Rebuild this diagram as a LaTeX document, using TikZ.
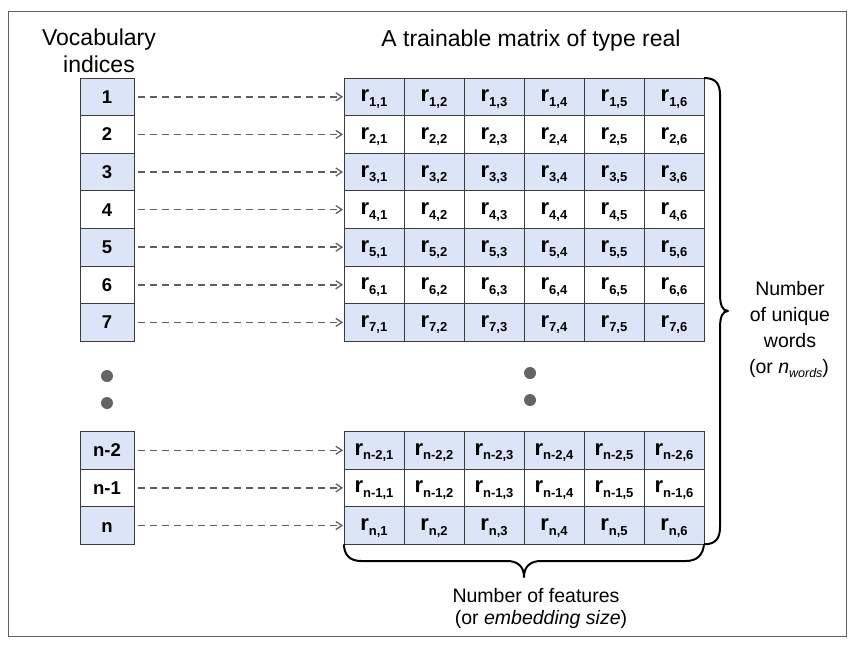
\documentclass[tikz,border=0pt]{standalone}
\usepackage{fontspec}
\setmainfont{Liberation Sans}
\usetikzlibrary{arrows.meta}

\definecolor{cellblue}{RGB}{219,229,247}
\definecolor{gridline}{RGB}{60,60,60}
\definecolor{arrowgray}{RGB}{95,95,95}
\definecolor{framegray}{RGB}{95,95,95}
\definecolor{dotgray}{RGB}{100,100,100}

% matrix entry: bold r with a lowered bold index
\newcommand\rentry[1]{{\fontsize{22}{22}\selectfont\bfseries r}\raisebox{-4.5pt}{\fontsize{13}{13}\selectfont\bfseries #1}}

\begin{document}
\begin{tikzpicture}[x=1pt,y=-1pt,
  cellbox/.style={draw=gridline, line width=1pt, minimum width=60pt, minimum height=37.6pt,
    inner sep=0pt, outer sep=0pt, text height=12pt, text depth=2pt},
  idxbox/.style={cellbox, minimum width=54pt, text height=13pt, text depth=0pt,
    font=\fontsize{18.5}{18.5}\selectfont\bfseries},
  lookup/.style={draw=arrowgray, line width=1.6pt, dash pattern=on 7pt off 5pt,
    shorten <=4pt, shorten >=1pt, -{Straight Barb[length=6pt,width=8pt,line width=1.3pt]}},
  bracepath/.style={draw=black, line width=2pt, line join=round},
  heading/.style={anchor=base, inner sep=0pt, font=\fontsize{23}{23}\selectfont},
  note/.style={anchor=base, inner sep=0pt, font=\fontsize{19.5}{19.5}\selectfont},
  dot/.style={circle, fill=dotgray, minimum size=12pt, inner sep=0pt}
]
\useasboundingbox (0,0) rectangle (855,646);
\draw[framegray, line width=1.5pt] (8.5,11.5) rectangle (846.5,636.5);

% headings
\node[heading] (vocab1) at (99,45) {Vocabulary};
\node[heading] (vocab2) at (99,72) {indices};
\node[heading] (mtitle) at (531,46.5) {A trainable matrix of type real};

% first seven rows
\foreach \i in {1,...,7} {
  \ifodd\i \def\fc{cellblue}\else\def\fc{white}\fi
  \node[idxbox, fill=\fc] (v\i) at (107,{78+37.6*(\i-0.5)}) {\i};
  \foreach \j in {1,...,6} {
    \node[cellbox, fill=\fc] (m-\i-\j) at ({344+60*(\j-0.5)},{78+37.6*(\i-0.5)}) {\rentry{\i,\j}};
  }
  \draw[lookup] (v\i) -- (m-\i-1);
}

% last three rows
\foreach \lab/\k/\fc in {n-2/1/cellblue, n-1/2/white, n/3/cellblue} {
  \node[idxbox, fill=\fc] (v\lab) at (107,{431.5+37.6*(\k-0.5)}) {\lab};
  \foreach \j in {1,...,6} {
    \node[cellbox, fill=\fc] (m-\lab-\j) at ({344+60*(\j-0.5)},{431.5+37.6*(\k-0.5)}) {\rentry{\lab,\j}};
  }
  \draw[lookup] (v\lab) -- (m-\lab-1);
}

% ellipsis dots
\node[dot] (ldot1) at (107,376) {};
\node[dot] (ldot2) at (107,403) {};
\node[dot] (rdot1) at (530,373) {};
\node[dot] (rdot2) at (530,400) {};

% brace along the rows
\draw[bracepath] (m-1-6.north east)
  .. controls (716,78) and (720,84) .. (720,95) -- (720,294)
  .. controls (720,304) and (722,311) .. (728,311)
  .. controls (722,311) and (720,318) .. (720,328) -- (720,527)
  .. controls (720,538) and (716,544.3) .. (m-n-6.south east);

% brace along the columns
\draw[bracepath] (m-n-1.south west)
  .. controls (344,555) and (350,561) .. (361,561) -- (507,561)
  .. controls (517,561) and (524,566) .. (524,577)
  .. controls (524,566) and (531,561) .. (541,561) -- (686,561)
  .. controls (697,561) and (703,555) .. (m-n-6.south east);

% brace labels
\node[note] (rl1) at (790,295) {Number};
\node[note] (rl2) at (790,321) {of unique};
\node[note] (rl3) at (790,347) {words};
\node[note] (rl4) at (789,373) {(or \textit{n}\raisebox{-4pt}{\fontsize{12.5}{12.5}\selectfont\itshape words})};
\node[note] (bl1) at (536,602) {Number of features};
\node[note] (bl2) at (541,624) {(or \textit{embedding size})};
\end{tikzpicture}
\end{document}
